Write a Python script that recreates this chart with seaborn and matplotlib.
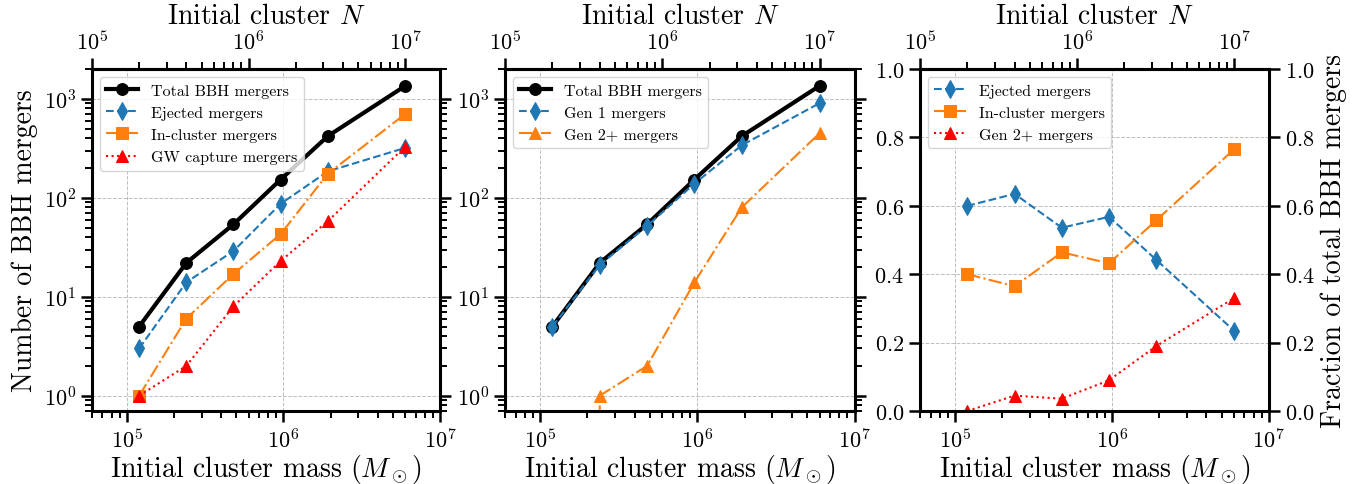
import numpy as np
import pandas as pd
import seaborn as sns
import matplotlib
matplotlib.use('Agg')
import matplotlib.pyplot as plt

# initial cluster masses (Msun); N = M / 0.6
mass = [1.2e5, 2.4e5, 4.8e5, 9.6e5, 1.92e6, 6.0e6]

# panel 1: merger counts
total = [5, 22, 54, 153, 420, 1355]
ejected = [3, 14, 29, 87, 185, 320]
in_cluster = [1, 6, 17, 43, 175, 705]
gw_capture = [1, 2, 8, 23, 58, 330]

# panel 2: generations
gen1 = [5, 21, 52, 139, 340, 905]
gen2 = [0, 1, 2, 14, 80, 450]

# panel 3: fractions of total
frac_ejected = [0.600, 0.635, 0.536, 0.568, 0.442, 0.235]
frac_incluster = [0.400, 0.365, 0.464, 0.432, 0.558, 0.765]
frac_gen2 = [0.0, 0.045, 0.036, 0.090, 0.190, 0.330]

MEAN_MASS = 0.6

plt.rcParams['font.family'] = 'serif'
plt.rcParams['font.serif'] = ['cmr10']
plt.rcParams['mathtext.fontset'] = 'cm'
plt.rcParams['axes.unicode_minus'] = False
plt.rcParams['axes.formatter.use_mathtext'] = True

LABEL_FS = 20
TICK_FS = 16
LEG_FS = 11.5
SPINE_W = 2.2


def style_axis(ax, log_y=True):
    ax.set_xscale('log')
    ax.set_xlim(6e4, 1e7)
    if log_y:
        ax.set_yscale('log')
        ax.set_ylim(0.7, 2000)
    else:
        ax.set_ylim(0, 1)
        ax.set_yticks([0.0, 0.2, 0.4, 0.6, 0.8, 1.0])
    for s in ax.spines.values():
        s.set_linewidth(SPINE_W)
    ax.tick_params(which='major', direction='out', length=8, width=1.8,
                   labelsize=TICK_FS, right=True, top=False)
    ax.tick_params(which='minor', direction='out', length=5, width=1.4,
                   right=True, top=False)
    ax.grid(True, which='major', linestyle='--', linewidth=0.7, color='0.75')
    ax.set_xlabel(r'Initial cluster mass ($M_\odot$)', fontsize=LABEL_FS, labelpad=0.5)

    top = ax.secondary_xaxis('top', functions=(lambda m: m / MEAN_MASS,
                                               lambda n: n * MEAN_MASS))
    top.set_xlabel(r'Initial cluster $N$', fontsize=LABEL_FS, labelpad=4)
    top.tick_params(which='major', direction='out', length=8, width=1.8,
                    labelsize=TICK_FS)
    top.tick_params(which='minor', direction='out', length=5, width=1.4)
    top.spines['top'].set_linewidth(SPINE_W)
    return top


fig = plt.figure(figsize=(13.57, 4.85), dpi=100)
ax1 = fig.add_axes([0.0678, 0.1505, 0.2565, 0.705])
ax2 = fig.add_axes([0.3722, 0.1505, 0.2575, 0.705])
ax3 = fig.add_axes([0.678, 0.1505, 0.2570, 0.705])

blue = '#1f77b4'
orange = '#ff7f0e'

# panel 1
sns.lineplot(x=mass, y=total, ax=ax1, color='k', linewidth=3, marker='o',
             markersize=8.5, markeredgecolor='k', label='Total BBH mergers')
sns.lineplot(x=mass, y=ejected, ax=ax1, color=blue, linewidth=1.5, linestyle='--',
             marker='d', markersize=9, markeredgecolor=blue, label='Ejected mergers')
sns.lineplot(x=mass, y=in_cluster, ax=ax1, color=orange, linewidth=1.5, linestyle='-.',
             marker='s', markersize=8, markeredgecolor=orange, label='In-cluster mergers')
sns.lineplot(x=mass, y=gw_capture, ax=ax1, color='red', linewidth=1.5, linestyle=':',
             marker='^', markersize=8.5, markeredgecolor='red', label='GW capture mergers')
style_axis(ax1)
ax1.set_ylabel('Number of BBH mergers', fontsize=LABEL_FS)
ax1.legend(loc='upper left', fontsize=LEG_FS)

# panel 2
sns.lineplot(x=mass, y=total, ax=ax2, color='k', linewidth=3, marker='o',
             markersize=8.5, markeredgecolor='k', label='Total BBH mergers')
sns.lineplot(x=mass, y=gen1, ax=ax2, color=blue, linewidth=1.5, linestyle='--',
             marker='d', markersize=9, markeredgecolor=blue, label='Gen 1 mergers')
sns.lineplot(x=mass, y=gen2, ax=ax2, color=orange, linewidth=1.5, linestyle='-.',
             marker='^', markersize=8.5, markeredgecolor=orange, label='Gen 2+ mergers')
style_axis(ax2)
ax2.set_ylabel('')
ax2.legend(loc='upper left', fontsize=LEG_FS)

# panel 3
sns.lineplot(x=mass, y=frac_ejected, ax=ax3, color=blue, linewidth=1.5, linestyle='--',
             marker='d', markersize=9, markeredgecolor=blue, label='Ejected mergers')
sns.lineplot(x=mass, y=frac_incluster, ax=ax3, color=orange, linewidth=1.5, linestyle='-.',
             marker='s', markersize=8, markeredgecolor=orange, label='In-cluster mergers')
sns.lineplot(x=mass, y=frac_gen2, ax=ax3, color='red', linewidth=1.5, linestyle=':',
             marker='^', markersize=8.5, markeredgecolor='red', label='Gen 2+ mergers')
style_axis(ax3, log_y=False)
ax3.tick_params(axis='y', labelright=True)
ax3.yaxis.set_label_position('right')
ax3.set_ylabel('Fraction of total BBH mergers', fontsize=LABEL_FS)
ax3.legend(loc='upper left', fontsize=LEG_FS)

fig.savefig('out.png', dpi=100)
